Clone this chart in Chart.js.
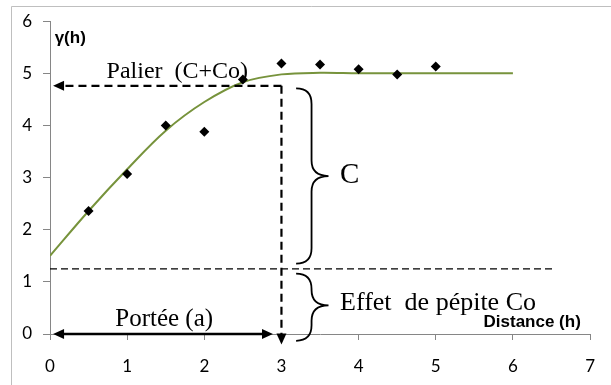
<!DOCTYPE html>
<html>
<head>
<meta charset="utf-8">
<script src="https://cdn.jsdelivr.net/npm/chart.js@4"></script>
<style>
  html, body { margin: 0; padding: 0; background: #fff; }
  canvas { display: block; }
</style>
</head>
<body>
<canvas id="vario" width="611" height="385"></canvas>
<script>
// Experimental semivariogram points
var distances = [0.5, 1, 1.5, 2, 2.5, 3, 3.5, 4, 4.5, 5];
var gammaValues = [2.36, 3.07, 4.0, 3.88, 4.88, 5.19, 5.17, 5.08, 4.98, 5.13];

// Fitted model curve (nugget 1.5, sill 5, range ~3)
var modelDistances = [0, 0.5, 1, 1.5, 2, 2.5, 3, 3.5, 4, 4.5, 5, 5.5, 6];
var modelValues = [1.5, 2.36, 3.16, 3.9, 4.45, 4.83, 4.98, 5.01, 5.0, 5.0, 5.0, 5.0, 5.0];

// Axis ticks
var xTicks = [0, 1, 2, 3, 4, 5, 6, 7];
var yTicks = [0, 1, 2, 3, 4, 5, 6];

// Reference levels used by the annotations
var rangeA = 3;         // portée
var sillLevel = 4.76;   // palier
var nuggetLevel = 1.25; // effet de pépite

var scatterData = distances.map(function(d, i) { return { x: d, y: gammaValues[i] }; });
var modelData = modelDistances.map(function(d, i) { return { x: d, y: modelValues[i] }; });

function arrowHead(ctx, x, y, dir) {
  // dir: 'left', 'right', 'down'
  ctx.beginPath();
  if (dir === 'left') { ctx.moveTo(x, y); ctx.lineTo(x + 11, y - 5); ctx.lineTo(x + 11, y + 5); }
  if (dir === 'right') { ctx.moveTo(x, y); ctx.lineTo(x - 11, y - 5); ctx.lineTo(x - 11, y + 5); }
  if (dir === 'down') { ctx.moveTo(x, y); ctx.lineTo(x - 5, y - 11); ctx.lineTo(x + 5, y - 11); }
  ctx.closePath();
  ctx.fill();
}

function brace(ctx, x0, xm, xt, yTop, yTip, yBot) {
  var r = xm - x0;
  ctx.beginPath();
  ctx.moveTo(x0, yTop);
  ctx.quadraticCurveTo(xm, yTop, xm, yTop + r);
  ctx.lineTo(xm, yTip - r);
  ctx.quadraticCurveTo(xm, yTip, xt, yTip);
  ctx.quadraticCurveTo(xm, yTip, xm, yTip + r);
  ctx.lineTo(xm, yBot - r);
  ctx.quadraticCurveTo(xm, yBot, x0, yBot);
  ctx.stroke();
}

var annotations = {
  id: 'annotations',
  beforeDraw: function(chart) {
    var ctx = chart.ctx;
    ctx.save();
    ctx.strokeStyle = '#bfbfbf';
    ctx.lineWidth = 1;
    ctx.beginPath();
    ctx.moveTo(11.5, chart.height);
    ctx.lineTo(11.5, 6.5);
    ctx.lineTo(chart.width, 6.5);
    ctx.stroke();
    ctx.restore();
  },
  afterDatasetsDraw: function(chart) {
    var ctx = chart.ctx;
    var xs = chart.scales.x, ys = chart.scales.y;
    var px = function(v) { return xs.getPixelForValue(v); };
    var py = function(v) { return ys.getPixelForValue(v); };
    ctx.save();
    ctx.fillStyle = '#000';
    ctx.strokeStyle = '#000';

    // sill: dashed arrow back to the y axis
    ctx.lineWidth = 2.2;
    ctx.setLineDash([8, 5]);
    ctx.beginPath();
    ctx.moveTo(px(rangeA), py(sillLevel));
    ctx.lineTo(px(0.06) + 10, py(sillLevel));
    ctx.stroke();
    // range: dashed arrow down to the x axis
    ctx.beginPath();
    ctx.moveTo(px(rangeA), py(sillLevel));
    ctx.lineTo(px(rangeA), py(-0.2) - 10);
    ctx.stroke();
    ctx.setLineDash([]);
    arrowHead(ctx, px(0.04), py(sillLevel), 'left');
    arrowHead(ctx, px(rangeA), py(-0.2), 'down');

    // nugget level
    ctx.lineWidth = 1.4;
    ctx.setLineDash([7, 4]);
    ctx.beginPath();
    ctx.moveTo(px(0), py(nuggetLevel));
    ctx.lineTo(px(6.55), py(nuggetLevel));
    ctx.stroke();
    ctx.setLineDash([]);

    // portée double arrow
    ctx.lineWidth = 2.6;
    ctx.beginPath();
    ctx.moveTo(px(0.04) + 8, py(0));
    ctx.lineTo(px(2.89) - 8, py(0));
    ctx.stroke();
    arrowHead(ctx, px(0.04), py(0), 'left');
    arrowHead(ctx, px(2.89), py(0), 'right');

    // braces for C and Co
    ctx.lineWidth = 1.8;
    brace(ctx, px(3.19), px(3.39), px(3.61), py(4.71), py(3.03), py(1.35));
    brace(ctx, px(3.19), px(3.39), px(3.61), py(1.16), py(0.55), py(-0.13));

    // texts
    ctx.textBaseline = 'middle';
    ctx.font = '24px "Liberation Serif"';
    ctx.textAlign = 'center';
    ctx.fillText('Palier  (C+Co)', px(1.65), py(5.03));
    ctx.font = '25px "Liberation Serif"';
    ctx.fillText('Portée (a)', px(1.48), py(0.27));
    ctx.textAlign = 'left';
    ctx.font = '26px "Liberation Serif"';
    ctx.fillText('Effet  de pépite Co', px(3.76), py(0.6));
    ctx.font = '29px "Liberation Serif"';
    ctx.fillText('C', px(3.76), py(3.04));

    ctx.font = 'bold 17px "Liberation Sans"';
    ctx.fillText('γ(h)', px(0.06), py(5.68));
    ctx.textAlign = 'right';
    ctx.fillText('Distance (h)', px(6.88), py(0.22));
    ctx.restore();
  }
};

new Chart(document.getElementById('vario'), {
  type: 'scatter',
  data: {
    datasets: [
      {
        label: 'Modèle',
        data: modelData,
        showLine: true,
        borderColor: '#77933c',
        borderWidth: 2,
        pointRadius: 0,
        tension: 0.35,
        order: 2
      },
      {
        label: 'γ(h)',
        data: scatterData,
        pointStyle: 'rectRot',
        pointRadius: 5,
        backgroundColor: '#000',
        borderColor: '#000',
        borderWidth: 0,
        order: 1
      }
    ]
  },
  options: {
    responsive: false,
    animation: false,
    layout: { padding: { top: 18, right: 12, left: 0, bottom: 0 } },
    plugins: { legend: { display: false }, tooltip: { enabled: false } },
    scales: {
      x: {
        type: 'linear',
        min: xTicks[0],
        max: xTicks[xTicks.length - 1],
        afterBuildTicks: function(s) { s.ticks = xTicks.map(function(v) { return { value: v }; }); },
        afterFit: function(s) { s.height = 51; },
        ticks: { color: '#000', font: { family: 'Lato', size: 17 }, padding: 16, maxRotation: 0 },
        grid: { drawOnChartArea: false, drawTicks: true, tickLength: 6, color: '#868686' },
        border: { color: '#868686' }
      },
      y: {
        min: yTicks[0],
        max: yTicks[yTicks.length - 1],
        afterBuildTicks: function(s) { s.ticks = yTicks.map(function(v) { return { value: v }; }); },
        afterFit: function(s) { s.width = 50; },
        ticks: { color: '#000', font: { family: 'Lato', size: 17 }, padding: 11 },
        grid: { drawOnChartArea: false, drawTicks: true, tickLength: 7, color: '#868686' },
        border: { color: '#868686' }
      }
    }
  },
  plugins: [annotations]
});
</script>
</body>
</html>
